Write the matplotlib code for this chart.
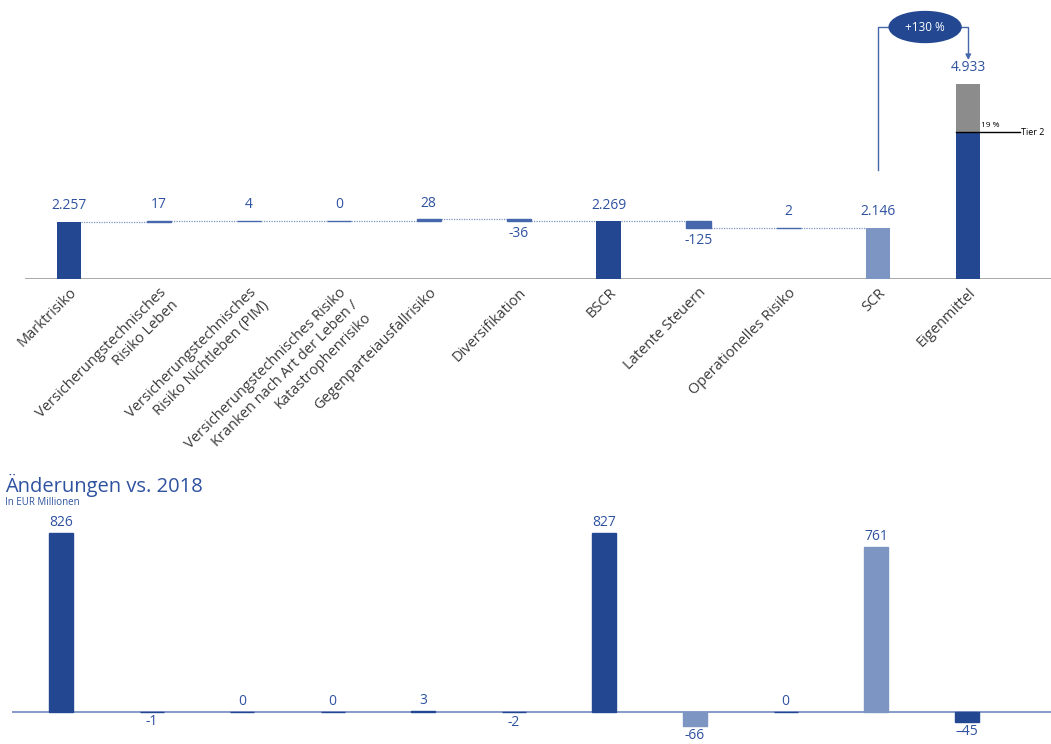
import matplotlib
matplotlib.use("Agg")
import matplotlib.pyplot as plt
import matplotlib.patches as mpatches
import numpy as np

# ── Data ──────────────────────────────────────────────────────────────────────
categories = [
    "Marktrisiko",
    "Versicherungstechnisches\nRisiko Leben",
    "Versicherungstechnisches\nRisiko Nichtleben (PIM)",
    "Versicherungstechnisches Risiko\nKranken nach Art der Leben /\nKatastrophenrisiko",
    "Gegenparteiausfallrisiko",
    "Diversifikation",
    "BSCR",
    "Latente Steuern",
    "Operationelles Risiko",
    "SCR",
    "Eigenmittel",
]
# waterfall: "total" bars start at 0, "step" bars start at the running level
scr_values = [2257, 17, 4, 0, 28, -36, 2269, -125, 2, 2146, 4933]
scr_kinds = ["total", "step", "step", "step", "step", "step",
             "total", "step", "step", "total", "total"]
scr_labels = ["2.257", "17", "4", "0", "28", "-36", "2.269", "-125", "2", "2.146", "4.933"]
tier2_share = 0.19
coverage_label = "+130 %"

changes = [826, -1, 0, 0, 3, -2, 827, -66, 0, 761, -45]
change_labels = ["826", "-1", "0", "0", "3", "-2", "827", "-66", "0", "761", "–45"]

# ── Theme ─────────────────────────────────────────────────────────────────────
DARK = "#234791"
LIGHT = "#7d95c3"
STEP = "#4767ad"
GREY = "#8c8c8c"
TXT_BLUE = "#2f52a0"
TXT = "#3a3a3a"

plt.rcParams.update({
    "font.family": ["Open Sans", "DejaVu Sans"],
    "font.size": 9,
})

W, H = 1051, 744
fig = plt.figure(figsize=(W / 100, H / 100), dpi=100, facecolor="white")


def px_axes(x0, y0, x1, y1):
    # axes placed by pixel box (top-left origin)
    return fig.add_axes([x0 / W, 1 - y1 / H, (x1 - x0) / W, (y1 - y0) / H])


def clean(ax):
    for s in ax.spines.values():
        s.set_visible(False)
    ax.tick_params(left=False, labelleft=False, bottom=False)


# ── Top panel · SCR waterfall ────────────────────────────────────────────────
ax = px_axes(25, 0, W, 279)
clean(ax)
x = np.arange(len(categories))
bw = 0.27
ax.set_xlim(-0.49, 10.92)
ax.set_ylim(1150, 6562)

level = 0
bottoms, heights = [], []
for v, k in zip(scr_values, scr_kinds):
    if k == "total":
        bottoms.append(0)
        level = v
    else:
        bottoms.append(level)
        level += v
    heights.append(v)
colors = [DARK, STEP, STEP, STEP, STEP, STEP, DARK, STEP, STEP, LIGHT, DARK]

for i in range(len(x)):
    lw = 1.0 if scr_kinds[i] == "step" else 0
    ax.bar(x[i], heights[i], bottom=bottoms[i], width=bw, color=colors[i],
           edgecolor=colors[i], linewidth=lw, zorder=3)

# grey tier-2 part on top of Eigenmittel
own = scr_values[-1]
tier_level = own * (1 - tier2_share)
ax.bar(x[-1], own - tier_level, bottom=tier_level, width=bw, color=GREY,
       linewidth=0, zorder=4)
ax.plot([x[-1] - bw / 2, 10.58], [tier_level, tier_level], color="black", lw=1.0, zorder=5)
ax.text(10.59, tier_level, "Tier 2", fontsize=6.5, va="center", ha="left", color="black")
ax.text(x[-1] + bw / 2 + 0.01, tier_level + 60, f"{tier2_share * 100:.0f} %",
        fontsize=6, va="bottom", ha="left", color="black")

# dotted connectors between consecutive levels
ends = [b + h for b, h in zip(bottoms, heights)]
for i in range(len(x) - 2):
    ax.plot([x[i] + bw / 2, x[i + 1] - bw / 2], [ends[i], ends[i]],
            ls=(0, (1, 1)), color=LIGHT, lw=0.9, zorder=2)

# value labels
for i in range(len(x)):
    top = max(bottoms[i], bottoms[i] + heights[i])
    low = min(bottoms[i], bottoms[i] + heights[i])
    if scr_values[i] < 0:
        ax.text(x[i], low - 100, scr_labels[i], ha="center", va="top",
                color=TXT_BLUE, fontsize=10)
    else:
        ax.text(x[i], top + 170, scr_labels[i], ha="center", va="bottom",
                color=TXT_BLUE, fontsize=10)

# baseline
ax.axhline(1150, color="#9a9a9a", lw=1.2, zorder=1)

# coverage ratio bubble with connector arrow from SCR to Eigenmittel
ey = 6038
ex, ew, eh = 9.52, 0.80, 600
ax.add_patch(mpatches.Ellipse((ex, ey), ew, eh, color=DARK, zorder=6, clip_on=False))
ax.text(ex, ey, coverage_label, color="white", ha="center", va="center",
        fontsize=8.5, zorder=7)
ax.plot([x[9], x[9], ex - ew / 2], [3264, ey, ey], color=STEP, lw=1.0, zorder=5)
ax.annotate("", xy=(x[10], 5398), xytext=(ex + ew / 2, ey),
            arrowprops=dict(arrowstyle="-|>", color=STEP, lw=1.0,
                            connectionstyle="angle,angleA=0,angleB=90,rad=0",
                            shrinkA=0, shrinkB=0, mutation_scale=8),
            zorder=5)

ax.set_xticks(x)
ax.set_xticklabels(categories, rotation=45, ha="right", rotation_mode="anchor",
                   fontsize=10.5, color=TXT, multialignment="right")
ax.tick_params(axis="x", pad=1)

# ── Bottom panel · changes vs. prior year ────────────────────────────────────
ax2 = px_axes(12, 520, W, H)
clean(ax2)
ax2.set_xlim(-0.541, 10.93)
ax2.set_ylim(-147.7, 886)
ax2.set_xticks([])
ch_colors = [DARK, DARK, DARK, DARK, DARK, DARK, DARK, LIGHT, DARK, LIGHT, DARK]
ax2.bar(x, changes, width=0.265, color=ch_colors, edgecolor=ch_colors,
        linewidth=1.0, zorder=3)
ax2.axhline(0, color="#6f8bc0", lw=1.2, zorder=2)
for i, (v, lab) in enumerate(zip(changes, change_labels)):
    if v < 0:
        ax2.text(x[i], v - 10, lab, ha="center", va="top", color=TXT_BLUE, fontsize=10)
    else:
        ax2.text(x[i], v + 15, lab, ha="center", va="bottom", color=TXT_BLUE, fontsize=10)

fig.text(5 / W, 1 - 492 / H, "Änderungen vs. 2018", color=TXT_BLUE,
         fontsize=14.5, ha="left", va="baseline")
fig.text(5 / W, 1 - 505 / H, "In EUR Millionen", color=TXT_BLUE,
         fontsize=7, ha="left", va="baseline")

fig.savefig("out.png", dpi=100, facecolor="white")
